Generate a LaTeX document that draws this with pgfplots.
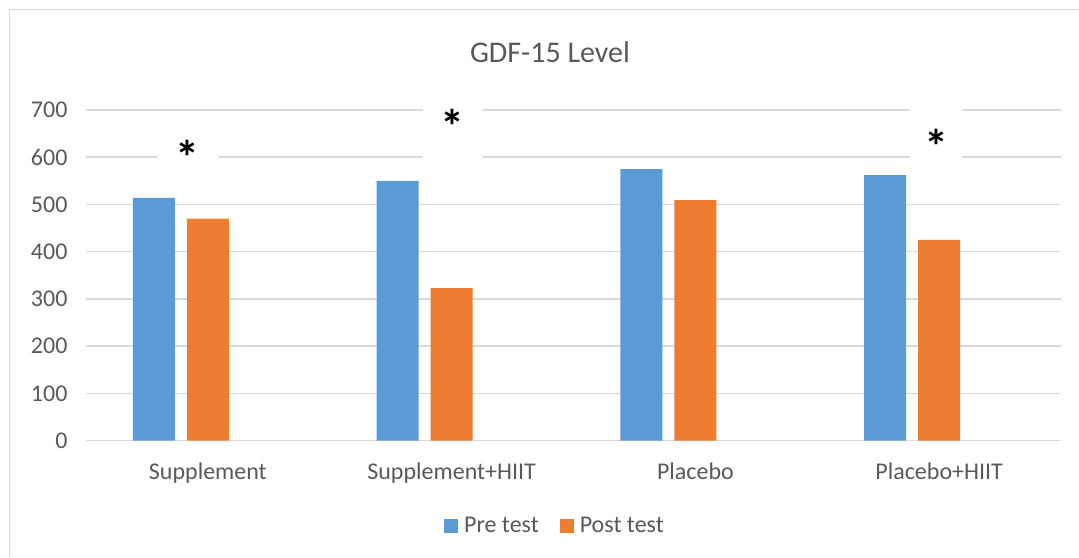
\documentclass[border=0pt]{standalone}
\usepackage{pgfplots}
\pgfplotsset{compat=1.18}
\usepackage{fontspec}
\setmainfont{Carlito}
\definecolor{preblue}{HTML}{5B9BD5}
\definecolor{postorange}{HTML}{ED7D31}
\definecolor{gridgray}{HTML}{D9D9D9}
\definecolor{txtgray}{HTML}{595959}
\begin{document}
\begin{tikzpicture}[x=1pt,y=1pt]
\useasboundingbox (0,0) rectangle (1079,-557);
\draw[gridgray, line width=1.3pt] (9.5,-557) -- (9.5,-9.5) -- (1079,-9.5);
\node[text=txtgray, font=\fontsize{30}{36}\selectfont] at (550,-52) {GDF-15 Level};
\begin{axis}[
  at={(86pt,-440.7pt)}, anchor=south west,
  width=975pt, height=330.7pt, scale only axis, clip=false,
  xmin=-0.5, xmax=3.5, ymin=0, ymax=700,
  ytick={0,100,...,700}, xtick={0,1,2,3},
  xticklabels={Supplement, Supplement+HIIT, Placebo, Placebo+HIIT},
  ybar, bar width=0.1723,
  axis line style={draw=none}, major tick length=0pt,
  ymajorgrids, grid style={gridgray, line width=1.5pt},
  tick label style={text=txtgray, font=\fontsize{24}{29}\selectfont},
  /pgf/number format/assume math mode=true,
  yticklabel style={xshift=-15pt},
  xticklabel style={yshift=-19pt},
  legend style={at={(0.481,-0.258)}, anchor=center, draw=none, legend columns=2,
    font=\fontsize{24}{29}\selectfont, text=txtgray,
    /tikz/every even column/.append style={column sep=19pt}},
  legend image code/.code={\fill[#1] (0pt,-7pt) rectangle (14pt,7pt); \path (18pt,0pt);},
]
\addplot[fill=preblue, draw=none, bar shift=-0.2215] coordinates {(0,514) (1,550) (2,575) (3,562)};
\addlegendentry{Pre test}
\addplot[fill=postorange, draw=none, bar shift=0] coordinates {(0,470) (1,323) (2,509) (3,425)};
\addlegendentry{Post test}
\node[fill=white, minimum width=62pt, minimum height=74pt, inner sep=0pt, yshift=-6pt] at (axis cs:-0.082,617) {};
\node[font=\bfseries\fontsize{48}{48}\selectfont, yshift=-8pt] at (axis cs:-0.082,617) {*};
\node[fill=white, minimum width=60pt, minimum height=74pt, inner sep=0pt, yshift=-6pt] at (axis cs:1.004,683) {};
\node[font=\bfseries\fontsize{48}{48}\selectfont, yshift=-8pt] at (axis cs:1.004,683) {*};
\node[fill=white, minimum width=52pt, minimum height=74pt, inner sep=0pt, yshift=-6pt] at (axis cs:2.988,640) {};
\node[font=\bfseries\fontsize{48}{48}\selectfont, yshift=-8pt] at (axis cs:2.988,640) {*};
\end{axis}
\end{tikzpicture}
\end{document}
